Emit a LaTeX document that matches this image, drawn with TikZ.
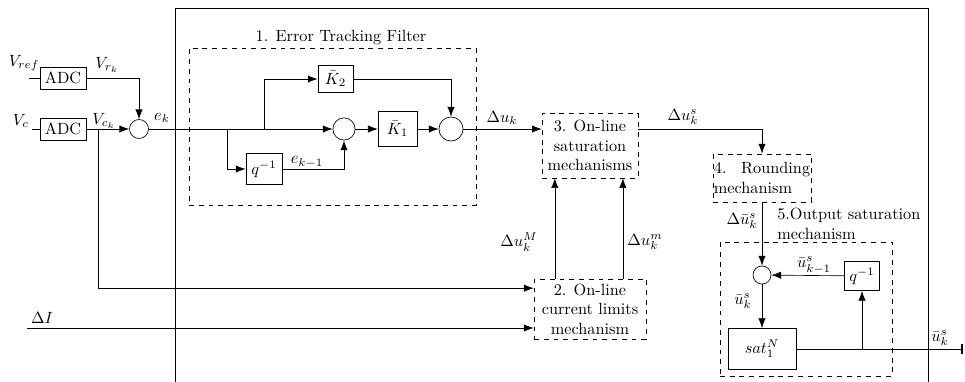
\documentclass[tikz,border=0pt]{standalone}
\usepackage{tikz}
\usetikzlibrary{arrows.meta}
\usepackage{xcolor}
\begin{document}
\begin{tikzpicture}[x=0.0216cm,y=-0.0216cm]

\tikzset{block/.style = {shape=rectangle,draw,inner sep=0pt}}
\tikzset{dbox/.style = {shape=rectangle,draw,dashed,inner sep=0pt,align=center}}
\tikzset{sum/.style = {shape=circle,draw,inner sep=0pt}}
\tikzset{edge/.style = {->,> = {Latex[length=6pt,width=4.5pt]}}}
\tikzset{lbl/.style = {inner sep=1pt}}
\useasboundingbox (0,0) rectangle (965,382);

% outer frame
\draw (175,382) -- (175,8) -- (928,8) -- (928,382);

\node[block,minimum width=0.99cm,minimum height=0.48cm] (adcRef) at (63,78)  {ADC};
\node[block,minimum width=0.99cm,minimum height=0.48cm] (adcC) at (63,129)  {ADC};
\node[sum,minimum size=0.41cm] (sumE) at (139,129) {};
\coordinate (inRef) at (29,78);
\coordinate (inC) at (32,129);
\coordinate (brC) at (98,129);
\coordinate (inI) at (27,328);

% 1. error tracking filter
\node[dbox,minimum width=6.20cm,minimum height=3.39cm] (etf) at (332.5,126.5) {};
\node (etfT) at (341,38) {1. Error Tracking Filter};
\node[sum,minimum size=0.48cm] (sumA) at (344,129) {};
\node[sum,minimum size=0.52cm] (sumB) at (451,129) {};
\node[block,minimum width=0.78cm,minimum height=0.67cm] (q1) at (264,169) {$q^{-1}$};
\node[block,minimum width=0.76cm,minimum height=0.58cm] (K2) at (335.5,79) {$\bar{K}_2$};
\node[block,minimum width=0.84cm,minimum height=0.76cm] (K1) at (397.5,129) {$\bar{K}_1$};
\coordinate (br1) at (227,129);
\coordinate (br2) at (264,129);

% 2. and 3.
\node[dbox,minimum width=2.07cm,minimum height=1.40cm] (sat) at (590,145.5) {3. On-line\\saturation\\mechanisms};
\node[dbox,minimum width=2.42cm,minimum height=1.30cm] (lim) at (590,309) {2. On-line\\current limits\\mechanism};

% 4. and 5.
\node[dbox,minimum height=1.04cm,text width=2.08cm,inner xsep=0.5pt,align=justify] (rnd) at (762,178) {4. Rounding mechanism};
\node[dbox,minimum width=3.72cm,minimum height=2.89cm] (outsat) at (806,309) {};
\node[anchor=north west,align=left,inner sep=0pt] (outT) at (777,208) {5.Output saturation\\mechanism};
\node[sum,minimum size=0.39cm] (sumC) at (762,275) {};
\node[block,minimum width=0.76cm,minimum height=0.63cm] (q2) at (862,276) {$q^{-1}$};
\node[block,minimum width=1.47cm,minimum height=0.89cm] (satN) at (762,349) {$sat_1^N$};
\coordinate (br4) at (862,349);
\coordinate (outEnd) at (963,349);

%edges
\draw (inRef) -- (adcRef);
\draw (inC) -- (adcC);
\draw[edge] (adcRef) -| (sumE);
\draw[edge] (adcC) -- (sumE);
\draw[edge] (sumE) -- (sumA);
\draw[edge] (br1) |- (q1);
\draw[edge] (br2) |- (K2);
\draw[edge] (q1) -| (sumA);
\draw[edge] (sumA) -- (K1);
\draw[edge] (K1) -- (sumB);
\draw[edge] (K2) -| (sumB);
\draw[edge] (sumB) -- (sumB -| sat.west);
\draw[edge] (sumB -| sat.east) -| (rnd);
\draw[edge] (brC) |- ([yshift=0.45cm]lim.west);
\draw[edge] (inI) -- (inI -| lim.west);
\draw[edge] ([xshift=-0.76cm]lim.north) -- ([xshift=-0.76cm]sat.south);
\draw[edge] ([xshift=0.71cm]lim.north) -- ([xshift=0.71cm]sat.south);
\draw[edge] (rnd) -- (sumC);
\draw[edge] (sumC) -- (satN);
\draw[edge] (q2) -- (sumC);
\draw[edge] (br4) -- (q2);
\draw[-{Bar[width=6pt,line width=1pt]}] (satN) -- (outEnd);

%labels
\node[lbl] at (24,63) {$V_{ref}$};
\node[lbl] at (21,121) {$V_c$};
\node[lbl] at (107,65) {$V_{r_k}$};
\node[lbl] at (104,121) {$V_{c_k}$};
\node[lbl] at (162,118) {$e_k$};
\node[lbl] at (307,162) {$e_{k-1}$};
\node[lbl] at (502,118) {$\Delta u_k$};
\node[lbl] at (683,117) {$\Delta u_k^s$};
\node[lbl] at (519,242) {$\Delta u_k^M$};
\node[lbl] at (645,242) {$\Delta u_k^m$};
\node[lbl] at (42,318) {$\Delta I$};
\node[lbl] at (742,221) {$\Delta\bar{u}_k^s$};
\node[lbl] at (814,265) {$\bar{u}_{k-1}^s$};
\node[lbl] at (743,301) {$\bar{u}_k^s$};
\node[lbl] at (940,338) {$\bar{u}_k^s$};
\end{tikzpicture}
\end{document}
